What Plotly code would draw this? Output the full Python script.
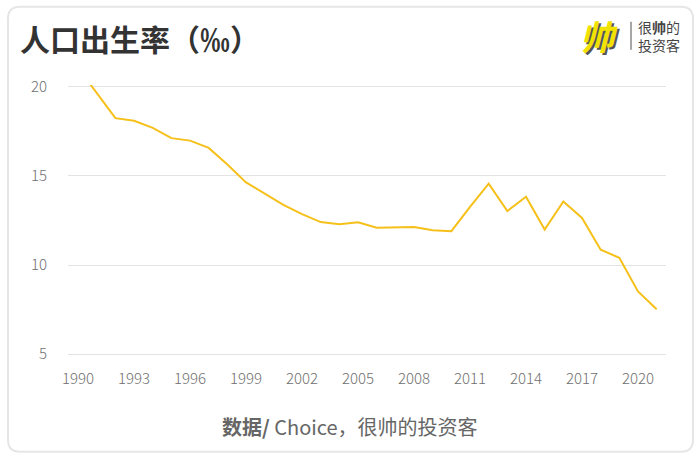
import plotly.graph_objects as go

years = list(range(1990, 2022))
birth_rate = [21.06, 19.68, 18.24, 18.09, 17.70, 17.12, 16.98, 16.57, 15.64, 14.64,
              14.03, 13.38, 12.86, 12.41, 12.29, 12.40, 12.09, 12.10, 12.14, 11.95,
              11.90, 13.27, 14.57, 13.03, 13.83, 11.99, 13.57, 12.64, 10.86, 10.41,
              8.52, 7.52]
x_ticks = list(range(1990, 2022, 3))
y_ticks = [5, 10, 15, 20]

title_text = "人口出生率（‰）"
source_text = "<b>数据/</b> Choice，很帅的投资客"

# plot area in pixels (range padded by 0.1 units = ~1.8 px on each side)
L, R, T, B = 68, 666, 85.2, 356.3
PW, PH = R - L, B - T


def px(x):
    return (x - L) / PW


def py(y):
    return (B - y) / PH


fig = go.Figure()
fig.add_trace(go.Scatter(
    x=years, y=birth_rate, mode="lines",
    line=dict(color="#F6C01A", width=2),
    hoverinfo="x+y", showlegend=False,
))

tick_font = dict(family="Noto Sans CJK SC", size=15, color="#707070", weight=300)

# rounded card outline in paper coordinates
cx0, cx1, cy0, cy1, r = 8, 693, 7, 452, 12
path = ("M {a} {b} L {c} {b} Q {d} {b} {d} {e} L {d} {f} Q {d} {g} {c} {g} "
        "L {a} {g} Q {h} {g} {h} {f} L {h} {e} Q {h} {b} {a} {b} Z").format(
    a=px(cx0 + r), b=py(cy0), c=px(cx1 - r), d=px(cx1), e=py(cy0 + r),
    f=py(cy1 - r), g=py(cy1), h=px(cx0))

fig.update_layout(
    width=700, height=459,
    margin=dict(l=L, r=700 - R, t=T, b=459 - B),
    paper_bgcolor="white", plot_bgcolor="white",
    xaxis=dict(range=[1989.46, 2021.5], tickvals=x_ticks, showgrid=False,
               zeroline=False, showline=False, ticks="", tickfont=tick_font,
               ticklabelstandoff=12),
    yaxis=dict(range=[4.9, 20.1], tickvals=y_ticks, showgrid=True,
               gridcolor="#e3e3e3", gridwidth=1, zeroline=False, showline=False,
               ticks="", tickfont=tick_font, ticklabelstandoff=20),
    shapes=[
        dict(type="path", xref="paper", yref="paper", path=path,
             line=dict(color="#e6e6e6", width=2), layer="below"),
        dict(type="line", xref="paper", yref="paper",
             x0=px(631), x1=px(631), y0=py(22), y1=py(50),
             line=dict(color="#888888", width=1.5)),
    ],
    annotations=[
        dict(text="<b>" + title_text + "</b>", xref="paper", yref="paper",
             x=px(18), y=py(38), xanchor="left", yanchor="middle",
             showarrow=False,
             font=dict(family="Noto Sans CJK SC", size=30, color="#333333")),
        dict(text="<b><i>帅</i></b>", xref="paper", yref="paper",
             x=px(599), y=py(36), xanchor="center", yanchor="middle",
             showarrow=False,
             font=dict(family="Noto Sans CJK SC", size=34, color="#F2E200",
                       shadow="2px 2px 0px #555")),
        dict(text="很<b>帅</b>的<br>投资客", xref="paper", yref="paper",
             x=px(636), y=py(36), xanchor="left", yanchor="middle",
             showarrow=False, align="left",
             font=dict(family="Noto Sans CJK SC", size=14, color="#444444")),
        dict(text=source_text, xref="paper", yref="paper",
             x=px(350), y=py(427), xanchor="center", yanchor="middle",
             showarrow=False,
             font=dict(family="Noto Sans CJK SC", size=20, color="#666666")),
    ],
)
fig.write_html("out.html")
